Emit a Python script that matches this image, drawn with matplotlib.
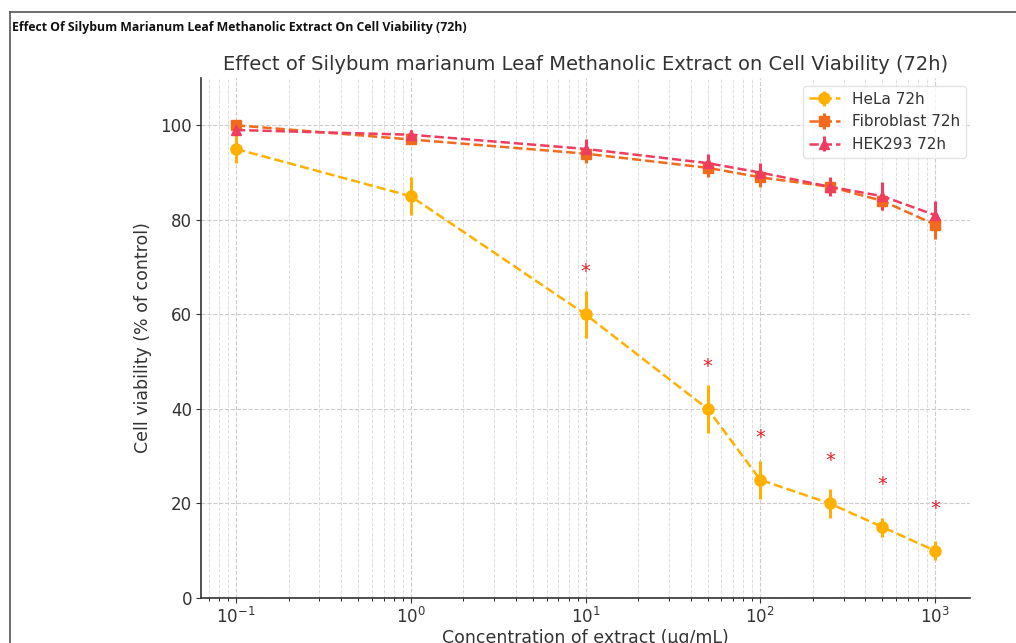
import matplotlib
matplotlib.use("Agg")
import matplotlib.pyplot as plt
from matplotlib.lines import Line2D
import numpy as np

conc = [0.1, 1, 10, 50, 100, 250, 500, 1000]
hela = [95, 85, 60, 40, 25, 20, 15, 10]
hela_err = [3, 4, 5, 5, 4, 3, 2, 2]
fibro = [100, 97, 94, 91, 89, 87, 84, 79]
fibro_err = [1, 1, 2, 2, 2, 1.5, 2, 3]
hek = [99, 98, 95, 92, 90, 87, 85, 81]
hek_err = [1, 1, 2, 2, 2, 2, 3, 3]
sig_conc = [10, 50, 100, 250, 500, 1000]
sig_y = [69, 49, 34, 29, 24, 19]

W, H = 1016, 643
fig = plt.figure(figsize=(W / 100, H / 100), dpi=100)
fig.patch.set_facecolor("white")

# page frame and header
fig.add_artist(Line2D([10 / W, 10 / W], [0, 1 - 12 / H], transform=fig.transFigure, color="#555555", lw=1.2))
fig.add_artist(Line2D([10 / W, 1], [1 - 12 / H, 1 - 12 / H], transform=fig.transFigure, color="#555555", lw=1.2))
fig.text(12 / W, 1 - 27 / H, "Effect Of Silybum Marianum Leaf Methanolic Extract On Cell Viability (72h)",
         fontsize=8.8, fontweight="bold", family="Open Sans", va="center", ha="left", color="#111111")

ax = fig.add_axes([201 / W, 1 - 598 / H, 769 / W, 520 / H])

c_hela = "#FFB000"
c_fib = "#F26B1D"
c_hek = "#F03C5E"

ax.errorbar(conc, hela, yerr=hela_err, fmt="o--", color=c_hela, lw=1.8, elinewidth=2.2, ms=8, capsize=0, label="HeLa 72h")
ax.errorbar(conc, fibro, yerr=fibro_err, fmt="s--", color=c_fib, lw=1.8, elinewidth=2.2, ms=7.5, capsize=0, label="Fibroblast 72h")
ax.errorbar(conc, hek, yerr=hek_err, fmt="^--", color=c_hek, lw=1.8, elinewidth=2.2, ms=7.5, capsize=0, label="HEK293 72h")

for xs, ys in zip(sig_conc, sig_y):
    ax.text(xs, ys, "*", color="#E8202A", fontsize=14, ha="center", va="center")

ax.set_xscale("log")
ax.set_ylim(0, 110)
ax.set_yticks([0, 20, 40, 60, 80, 100])
ax.grid(True, which="major", ls="--", color="#cccccc", lw=0.8)
ax.grid(True, which="minor", axis="x", ls="--", color="#dddddd", lw=0.7)
for s in ["top", "right"]:
    ax.spines[s].set_visible(False)
for s in ["left", "bottom"]:
    ax.spines[s].set_color("#333333")
    ax.spines[s].set_linewidth(1.2)
ax.tick_params(labelsize=12, colors="#333333", pad=3)

ax.set_title("Effect of Silybum marianum Leaf Methanolic Extract on Cell Viability (72h)",
             fontsize=14, color="#333333", pad=6)
ax.set_ylabel("Cell viability (% of control)", fontsize=12.5, color="#333333", labelpad=6)
ax.set_xlabel("Concentration of extract (µg/mL)", fontsize=12.5, color="#333333", labelpad=1)

leg = ax.legend(loc="upper right", fontsize=11, frameon=True, labelcolor="#333333",
                bbox_to_anchor=(1.005, 1.0))
leg.get_frame().set_edgecolor("#dddddd")

fig.savefig("out.png", dpi=100, facecolor="white")
